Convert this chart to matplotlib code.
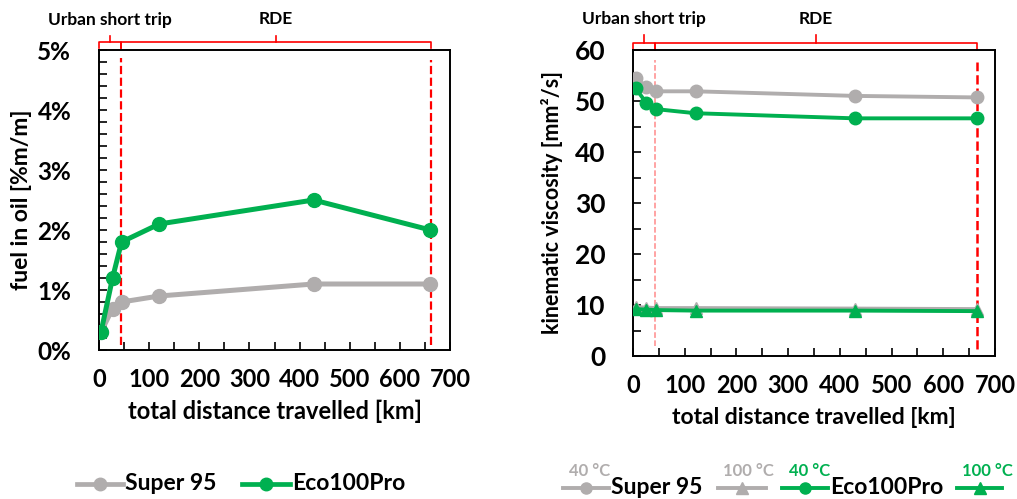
import matplotlib
matplotlib.use("Agg")
import matplotlib.pyplot as plt
import matplotlib.transforms as mtransforms
from matplotlib.lines import Line2D
from matplotlib.ticker import MultipleLocator, PercentFormatter

plt.rcParams['font.family'] = ['Lato', 'DejaVu Sans']
plt.rcParams['font.weight'] = 'bold'

# data
dist_fuel = [4, 27, 45, 120, 428, 661]
fuel_super95 = [0.3, 0.69, 0.8, 0.9, 1.1, 1.1]
fuel_eco = [0.3, 1.2, 1.8, 2.1, 2.5, 2.0]

dist_visc = [5, 26, 45, 121, 429, 665]
visc40_super95 = [54.5, 52.7, 51.9, 51.9, 51.0, 50.7]
visc40_eco = [52.5, 49.6, 48.4, 47.6, 46.6, 46.6]
visc100_super95 = [9.6, 9.5, 9.4, 9.4, 9.3, 9.2]
visc100_eco = [9.2, 9.1, 9.0, 8.9, 8.9, 8.8]

urban_end = 43
rde_end = 663

GRAY = '#B0ADAD'
GREEN = '#00B050'
RED = '#FF0000'

fig = plt.figure(figsize=(10.17, 4.99), dpi=100)
ax1 = fig.add_axes([99 / 1017, 1 - 350 / 499, 351 / 1017, 300 / 499])
ax2 = fig.add_axes([633 / 1017, 1 - 356 / 499, 362 / 1017, 306 / 499])


def style_axes(ax):
    for s in ax.spines.values():
        s.set_linewidth(1.4)
        s.set_color('black')
    ax.set_xlim(0, 700)
    ax.xaxis.set_major_locator(MultipleLocator(100))
    ax.xaxis.set_minor_locator(MultipleLocator(50))
    ax.tick_params(which='both', direction='in', length=6, width=1.2,
                   top=False, right=False)
    ax.tick_params(axis='x', which='both', pad=13, labelsize=17)
    ax.tick_params(axis='y', which='both', pad=20, labelsize=17.5)


def bracket(ax, x0, x1, y_line, y_end, y_peak):
    tr = mtransforms.blended_transform_factory(ax.transData, ax.transAxes)
    xm = (x0 + x1) / 2
    ax.plot([x0, x0, x1, x1], [y_end, y_line, y_line, y_end],
            color=RED, lw=1.2, transform=tr, clip_on=False)
    ax.plot([xm, xm], [y_line, y_peak], color=RED, lw=1.2,
            transform=tr, clip_on=False)
    return tr, xm


# left: fuel in oil
style_axes(ax1)
ax1.set_ylim(0, 5)
ax1.yaxis.set_major_locator(MultipleLocator(1))
ax1.yaxis.set_minor_locator(MultipleLocator(0.2))
ax1.yaxis.set_major_formatter(PercentFormatter(decimals=0))
ax1.set_xlabel('total distance travelled [km]', fontsize=17,
               fontweight='bold', labelpad=6)
ax1.set_ylabel('fuel in oil [%m/m]', fontsize=16.5, fontweight='bold',
               labelpad=4)
ax1.plot(dist_fuel, fuel_super95, color=GRAY, lw=3.6, marker='o', ms=10,
         zorder=3)
ax1.plot(dist_fuel, fuel_eco, color=GREEN, lw=3.6, marker='o', ms=10,
         zorder=4)
ax1.axvline(urban_end, ymin=0.017, ymax=0.973, color=RED, ls='--', lw=1.6)
ax1.axvline(rde_end, ymin=0.017, ymax=0.967, color=RED, ls='--', lw=1.6)
tr, xm = bracket(ax1, 0, urban_end, 1.027, 1.007, 1.047)
ax1.text(xm, 1.075, 'Urban short trip', transform=tr, ha='center',
         va='bottom', fontsize=12.5, fontweight='bold')
tr, xm = bracket(ax1, urban_end, rde_end, 1.027, 1.007, 1.047)
ax1.text(xm, 1.075, 'RDE', transform=tr, ha='center', va='bottom',
         fontsize=12.5, fontweight='bold')

# right: kinematic viscosity
style_axes(ax2)
ax2.set_ylim(0, 60)
ax2.yaxis.set_major_locator(MultipleLocator(10))
ax2.yaxis.set_minor_locator(MultipleLocator(5))
ax2.tick_params(axis='y', which='both', labelsize=19, pad=20)
ax2.set_xlabel('total distance travelled [km]', fontsize=16.5,
               fontweight='bold', labelpad=7)
ax2.set_ylabel('kinematic viscosity [mm²/s]', fontsize=15.5,
               fontweight='bold', labelpad=8)
ax2.plot(dist_visc, visc40_super95, color=GRAY, lw=2.8, marker='o', ms=9,
         zorder=3)
ax2.plot(dist_visc, visc100_super95, color=GRAY, lw=2.8, marker='^', ms=9,
         zorder=3)
ax2.plot(dist_visc, visc40_eco, color=GREEN, lw=2.8, marker='o', ms=9,
         zorder=4)
ax2.plot(dist_visc, visc100_eco, color=GREEN, lw=2.8, marker='^', ms=9,
         zorder=4)
ax2.axvline(urban_end, ymin=0.033, ymax=0.967, color='#FF8A8A', ls='--',
            lw=1.1)
ax2.axvline(rde_end + 2, ymin=0.023, ymax=0.961, color=RED, ls='--', lw=1.8)
tr, xm = bracket(ax2, 0, urban_end, 1.023, 1.0, 1.049)
ax2.text(xm, 1.075, 'Urban short trip', transform=tr, ha='center',
         va='bottom', fontsize=12.5, fontweight='bold')
tr, xm = bracket(ax2, urban_end, rde_end + 2, 1.023, 1.0, 1.049)
ax2.text(xm, 1.075, 'RDE', transform=tr, ha='center', va='bottom',
         fontsize=12.5, fontweight='bold')


# legends, drawn in figure pixel coordinates
def handle(x0, x1, y, color, marker, ms, lw):
    fig.add_artist(Line2D([x0 / 1017, x1 / 1017], [1 - y / 499, 1 - y / 499],
                          color=color, lw=lw))
    fig.add_artist(Line2D([(x0 + x1) / 2 / 1017], [1 - y / 499],
                          color=color, marker=marker, ms=ms, lw=0))


def ftext(x, y, s, **kw):
    fig.text(x / 1017, 1 - y / 499, s, va='center', fontweight='bold', **kw)


handle(77, 123, 484, GRAY, 'o', 9, 3.4)
ftext(125, 484, 'Super 95', fontsize=16.5)
handle(242, 290, 484, GREEN, 'o', 9, 3.4)
ftext(292, 484, 'Eco100Pro', fontsize=16.5)

handle(563, 609, 488, GRAY, 'o', 8, 2.8)
ftext(611, 488, 'Super 95', fontsize=16.5)
handle(718, 766, 488, GRAY, '^', 8, 2.8)
handle(782, 828, 488, GREEN, 'o', 8, 2.8)
ftext(830, 488, 'Eco100Pro', fontsize=16.5)
handle(957, 1002, 488, GREEN, '^', 8, 2.8)
ftext(590, 471, '40 °C', fontsize=12, color=GRAY, ha='center')
ftext(748, 471, '100 °C', fontsize=12, color=GRAY, ha='center')
ftext(810, 471, '40 °C', fontsize=12, color=GREEN, ha='center')
ftext(987, 471, '100 °C', fontsize=12, color=GREEN, ha='center')

fig.savefig('out.png', dpi=100)
